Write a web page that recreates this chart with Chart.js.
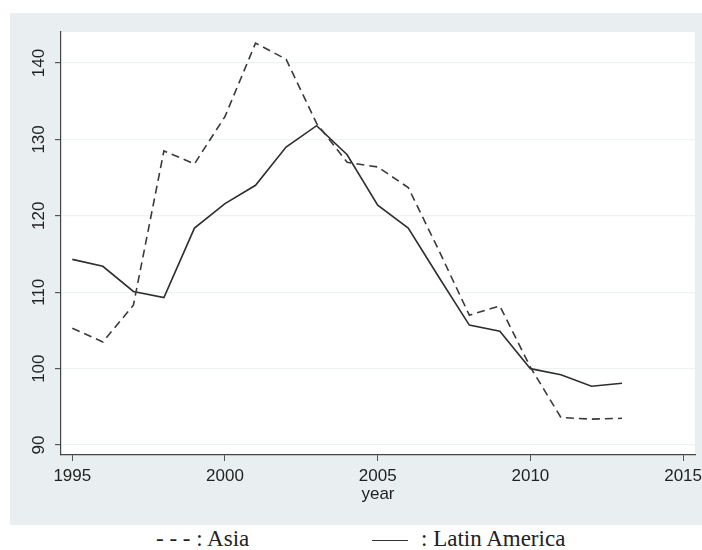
<!DOCTYPE html>
<html>
<head>
<meta charset="utf-8">
<script src="https://cdn.jsdelivr.net/npm/chart.js@4/dist/chart.umd.min.js"></script>
<style>
  html, body { margin: 0; padding: 0; background: #fff; }
  body { width: 702px; height: 550px; position: relative; overflow: hidden; }
  #panel { position: absolute; left: 10px; top: 13px; width: 692px; height: 512px; background: #e9eff1; }
  #legend { position: absolute; top: 526px; left: 0; width: 702px; height: 24px;
            font-family: "Liberation Serif", "DejaVu Serif", serif; font-size: 23px; line-height: 25px; color: #222; }
  #legend span { position: absolute; top: 0; white-space: nowrap; }
  .solid { display: inline-block; width: 36px; border-top: 1.6px solid #333; vertical-align: middle; margin-right: 13px; }
</style>
</head>
<body>
<div id="panel"><canvas id="chart" width="692" height="512"></canvas></div>
<div id="legend">
  <span style="left:156px">- - - : Asia</span>
  <span style="left:372px"><i class="solid"></i>: Latin America</span>
</div>
<script>
// 年份與兩條序列
const years = [1995, 1996, 1997, 1998, 1999, 2000, 2001, 2002, 2003, 2004,
               2005, 2006, 2007, 2008, 2009, 2010, 2011, 2012, 2013];
const asia = [105.3, 103.5, 108.3, 128.5, 126.8, 133.0, 142.6, 140.5, 132.1, 127.0,
              126.4, 123.7, 115.5, 107.0, 108.2, 100.2, 93.6, 93.4, 93.5];
const latinAmerica = [114.3, 113.4, 110.1, 109.3, 118.4, 121.6, 124.0, 129.0, 131.8, 128.0,
                      121.4, 118.4, 112.0, 105.7, 104.9, 100.0, 99.2, 97.7, 98.1];
// 座標軸刻度
const xTicks = [1995, 2000, 2005, 2010, 2015];
const yTicks = [90, 100, 110, 120, 130, 140];

// 繪圖區白底
const plotBg = {
  id: "plotBg",
  beforeDraw(chart) {
    const { ctx, chartArea: a } = chart;
    ctx.save();
    ctx.fillStyle = "#ffffff";
    ctx.fillRect(a.left, a.top, a.right - a.left, a.bottom - a.top);
    ctx.restore();
  },
};

const ctx = document.getElementById("chart").getContext("2d");
new Chart(ctx, {
  type: "line",
  data: {
    datasets: [
      {
        label: "Asia",
        data: years.map((y, i) => ({ x: y, y: asia[i] })),
        borderColor: "#3a3a3a",
        borderWidth: 1.6,
        borderDash: [8, 5],
        pointRadius: 0,
        tension: 0,
      },
      {
        label: "Latin America",
        data: years.map((y, i) => ({ x: y, y: latinAmerica[i] })),
        borderColor: "#2e2e2e",
        borderWidth: 1.6,
        pointRadius: 0,
        tension: 0,
      },
    ],
  },
  options: {
    responsive: false,
    animation: false,
    layout: { padding: { top: 19, right: 7, bottom: 18.5, left: 0 } },
    plugins: { legend: { display: false }, tooltip: { enabled: false } },
    scales: {
      x: {
        type: "linear",
        min: 1994.63,
        max: 2015.39,
        afterBuildTicks: (s) => { s.ticks = xTicks.map((v) => ({ value: v })); },
        afterFit: (s) => { s.height = 51.5; s.paddingRight = 0; s.paddingLeft = 0; },
        grid: { display: true, drawOnChartArea: false, drawTicks: true, tickLength: 6, tickColor: "#555" },
        border: { color: "#444", width: 1.2 },
        ticks: {
          color: "#222",
          padding: 7,
          maxRotation: 0,
          font: { family: "'Liberation Sans', Arial, sans-serif", size: 17, lineHeight: 1 },
          callback: (v) => String(v),
        },
        title: {
          display: true,
          text: "year",
          color: "#222",
          padding: { top: 2, bottom: 4 },
          font: { family: "'Liberation Sans', Arial, sans-serif", size: 17, lineHeight: 1 },
        },
      },
      y: {
        min: 88.7,
        max: 144.06,
        afterBuildTicks: (s) => { s.ticks = yTicks.map((v) => ({ value: v })); },
        afterFit: (s) => { s.width = 51; s.paddingTop = 0; s.paddingBottom = 0; },
        grid: { color: "#edf2f2", lineWidth: 1.2, tickLength: 6, tickColor: "#555" },
        border: { color: "#444", width: 1.2 },
        ticks: {
          color: "#222",
          padding: 2,
          minRotation: 90,
          maxRotation: 90,
          crossAlign: "center",
          font: { family: "'Liberation Sans', Arial, sans-serif", size: 17, lineHeight: 1 },
        },
      },
    },
  },
  plugins: [plotBg],
});
</script>
</body>
</html>
